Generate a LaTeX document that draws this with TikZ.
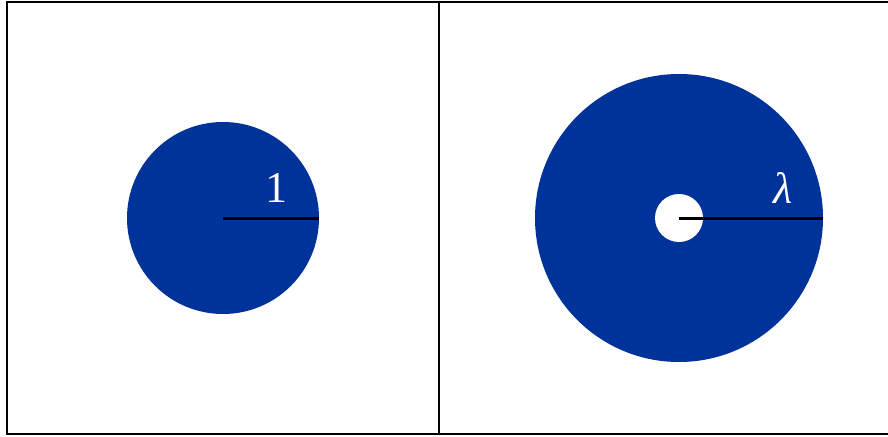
\documentclass[tikz,border=0pt]{standalone}
\usepackage{fontspec}
\setmainfont{Liberation Serif}
\usepackage{tikz}
\usetikzlibrary{positioning}
\definecolor{discblue}{RGB}{0,51,153}

\begin{document}
\begin{tikzpicture}[x=1pt, y=-1pt,
        frame/.style = {draw=black, line width=2pt},
        disc/.style = {fill=discblue},
        radius line/.style = {draw=black, line width=3pt},
        radlabel/.style = {text=white, font=\fontsize{44}{44}\selectfont, inner sep=0pt},
      ]
      \useasboundingbox (0,0) rectangle (888,436);
      % panels
      \draw[frame] (7,2) rectangle (439,434);
      \draw[frame] (439,2) -- (890,2);
      \draw[frame] (439,434) -- (890,434);
      % unit disc
      \coordinate (c1) at (223,218);
      \fill[disc] (c1) circle (96);
      \draw[radius line] (c1) -- ++(96,0) coordinate (e1);
      \node[radlabel] (one) at (276,188) {1};
      % annulus
      \coordinate (c2) at (679,218);
      \fill[disc] (c2) circle (144);
      \fill[white] (c2) circle (24);
      \draw[radius line] (c2) -- ++(144,0) coordinate (e2);
      \node[radlabel] (lam) at (783,188) {\itshape λ};
    \end{tikzpicture}
\end{document}
